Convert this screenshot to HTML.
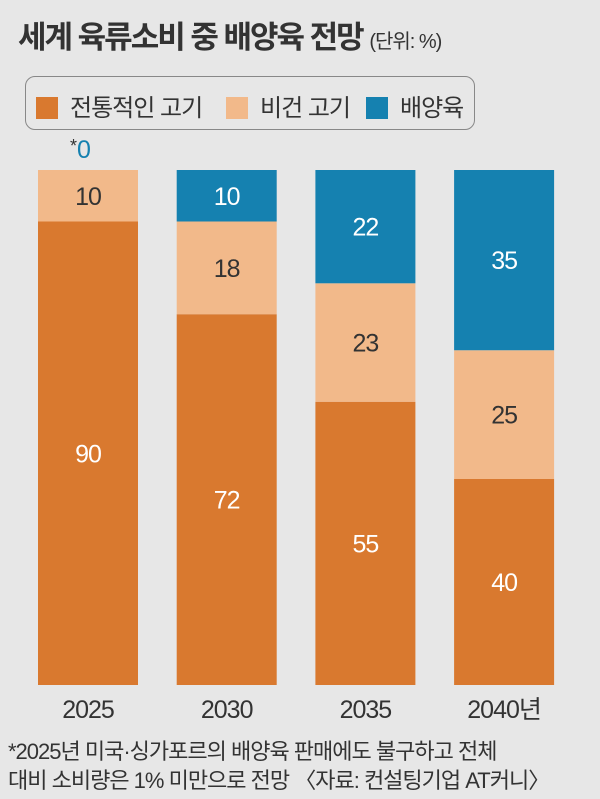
<!DOCTYPE html>
<html><head><meta charset="utf-8"><style>
body{margin:0;width:600px;height:799px;background:#e7e7e7;font-family:"Liberation Sans","Noto Sans CJK KR",sans-serif;color:#333;overflow:hidden;position:relative}
.t{position:absolute;white-space:nowrap}
</style></head><body>
<div class="t" style="left:18px;top:12px;font-size:31px;font-weight:bold;letter-spacing:-2px;color:#333">세계 육류소비 중 배양육 전망 <span style="font-size:20px;font-weight:normal;letter-spacing:-1px">(단위: %)</span></div>
<div style="position:absolute;left:25px;top:76px;width:448px;height:52px;border:1.5px solid #888;border-radius:10px"></div>
<div class="t" style="left:36px;top:88px;font-size:24px;letter-spacing:-1px"><span style="display:inline-block;width:22px;height:22px;background:#d9792f;vertical-align:-3px;margin-right:12px"></span>전통적인 고기</div>
<div class="t" style="left:226px;top:88px;font-size:24px;letter-spacing:-1px"><span style="display:inline-block;width:22px;height:22px;background:#f2b98a;vertical-align:-3px;margin-right:12px"></span>비건 고기</div>
<div class="t" style="left:366px;top:88px;font-size:24px;letter-spacing:-1px"><span style="display:inline-block;width:22px;height:22px;background:#1581b0;vertical-align:-3px;margin-right:12px"></span>배양육</div>
<svg id="chart" width="600" height="799" style="position:absolute;left:0;top:0"></svg>
<div class="t" style="left:8px;top:737px;font-size:22px;line-height:29px;letter-spacing:-1px">*2025년 미국·싱가포르의 배양육 판매에도 불구하고 전체<br>대비 소비량은 1% 미만으로 전망 〈자료: 컨설팅기업 AT커니〉</div>
<script>
const categories=["2025","2030","2035","2040년"];
const traditional=[90,72,55,40];
const plant=[10,18,23,25];
const cultured=[0,10,22,35];
const svg=document.getElementById('chart');
const NS="http://www.w3.org/2000/svg";
const top0=170,bot=685,barW=100;
function x(i){return 38+i*138.7;}
function y(v){return bot-(v/100)*(bot-top0);}
function add(tag,attrs,txt){const e=document.createElementNS(NS,tag);for(const k in attrs)e.setAttribute(k,attrs[k]);if(txt!==undefined)e.textContent=txt;svg.appendChild(e);return e;}
const series=[[traditional,"#d9792f","#fff","traditional"],[plant,"#f2b98a","#333","plant"],[cultured,"#1581b0","#fff","cultured"]];
categories.forEach((c,i)=>{
  let base=0;
  series.forEach(([arr,col,tc,nm])=>{
    const v=arr[i];
    if(v>0){
      const r=add('rect',{x:x(i),y:y(base+v),width:barW,height:y(base)-y(base+v),fill:col});
      
      
      const t=add('text',{x:x(i)+barW/2,y:(y(base)+y(base+v))/2+9,'text-anchor':'middle','font-size':25,fill:tc,'letter-spacing':-1,'font-family':'Liberation Sans'},v);
      
      
    }
    base+=v;
  });
  const l=add('text',{x:x(i)+barW/2,y:718,'text-anchor':'middle','font-size':25,fill:'#333','letter-spacing':-1,'font-family':'Liberation Sans, Noto Sans CJK KR, sans-serif'},c);
  
  
});
const z=add('text',{x:x(0)+barW/2-18,y:158,'font-size':25,fill:'#1581b0','font-family':'Liberation Sans'},'');


z.innerHTML='<tspan fill="#333" font-size="18" dy="-6">*</tspan><tspan dy="6">'+cultured[0]+'</tspan>';
</script>
</body></html>
